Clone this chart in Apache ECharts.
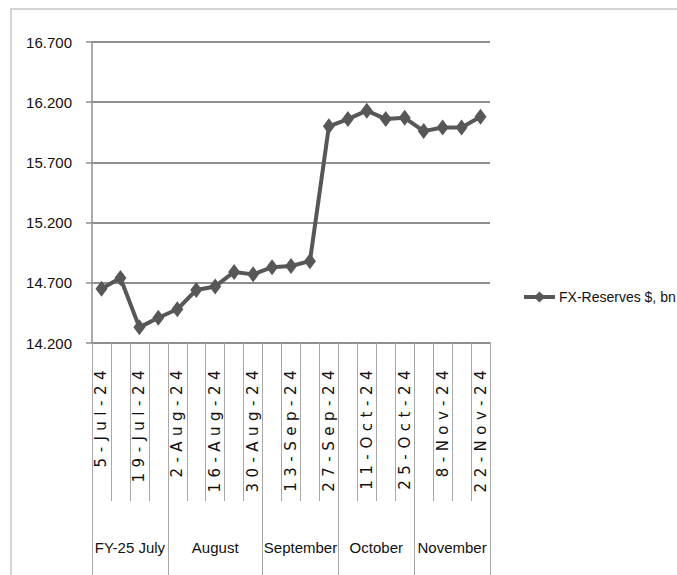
<!DOCTYPE html>
<html>
<head>
<meta charset="utf-8">
<script src="https://cdn.jsdelivr.net/npm/echarts@6/dist/echarts.min.js"></script>
<style>
  html, body { margin: 0; padding: 0; background: #fff; }
  .frame {
    position: absolute; left: 10px; top: 8px; right: -4px; bottom: -4px;
    border: 2px solid #d4d4d4;
  }
  #chart { position: absolute; left: 0; top: 0; width: 677px; height: 575px; }
  /* the rotated date labels in the reference are widely spaced */
  #chart text[style*='"DejaVu Sans", Verdana'] { letter-spacing: 5.5px; }
</style>
</head>
<body>
<div class="frame"></div>
<div id="chart"></div>
<script>
const weeks = [
  '5-Jul-24', '12-Jul-24', '19-Jul-24', '26-Jul-24',
  '2-Aug-24', '9-Aug-24', '16-Aug-24', '23-Aug-24', '30-Aug-24',
  '6-Sep-24', '13-Sep-24', '20-Sep-24', '27-Sep-24',
  '4-Oct-24', '11-Oct-24', '18-Oct-24', '25-Oct-24',
  '1-Nov-24', '8-Nov-24', '15-Nov-24', '22-Nov-24'
]
const reserves = [
  14.65, 14.74, 14.33, 14.41,
  14.48, 14.64, 14.67, 14.79, 14.77,
  14.83, 14.84, 14.88, 16.00,
  16.06, 16.13, 16.06, 16.07,
  15.96, 15.99, 15.99, 16.08
]
const months = ['FY-25 July', 'August', 'September', 'October', 'November']
const monthWeeks = [4, 5, 4, 4, 4]
const seriesName = 'FX-Reserves $, bn'

// month group edges and centres on a 0..weeks.length scale
const monthEdges = [0]
monthWeeks.forEach((n) => monthEdges.push(monthEdges[monthEdges.length - 1] + n))
const monthCenters = months.map((_, i) => (monthEdges[i] + monthEdges[i + 1]) / 2)

const narrow = '"Liberation Sans", Arial, sans-serif'
const lineColor = '#575757'
const textColor = '#111'

const chart = echarts.init(document.getElementById('chart'), null, { renderer: 'svg' })

chart.setOption({
  animation: false,
  grid: { left: 92, right: 187, top: 42, bottom: 232 },
  legend: {
    left: 517,
    top: 285,
    itemWidth: 31,
    itemHeight: 14,
    itemGap: 0,
    lineStyle: { width: 4 },
    textStyle: { fontFamily: narrow, fontSize: 14, color: textColor, padding: [0, 0, 0, -1] },
    data: [seriesName]
  },
  xAxis: [
    {
      type: 'category',
      data: weeks,
      boundaryGap: true,
      axisLine: { lineStyle: { color: '#8f8f8f', width: 2 } },
      axisTick: { show: true, interval: 0, length: 158, lineStyle: { color: '#a8a8a8', width: 1 } },
      axisLabel: {
        interval: 1,
        rotate: 90,
        margin: 22,
        fontFamily: '"DejaVu Sans", Verdana, sans-serif',
        fontSize: 15,
        color: textColor
      }
    },
    {
      type: 'value',
      position: 'bottom',
      min: 0,
      max: weeks.length,
      axisLine: { show: false },
      splitLine: { show: false },
      axisTick: {
        show: true,
        customValues: monthEdges,
        length: 240,
        lineStyle: { color: '#a8a8a8', width: 1 }
      },
      axisLabel: {
        customValues: monthCenters,
        margin: 197,
        fontFamily: narrow,
        fontSize: 15,
        color: textColor,
        formatter: (v) => months[monthCenters.indexOf(v)]
      }
    }
  ],
  yAxis: {
    type: 'value',
    min: 14.2,
    max: 16.7,
    interval: 0.5,
    axisLine: { show: true, lineStyle: { color: '#8f8f8f', width: 1.5 } },
    axisTick: { show: true, length: 6, lineStyle: { color: '#8f8f8f', width: 1.5 } },
    splitLine: { lineStyle: { color: '#8f8f8f', width: 2 } },
    axisLabel: {
      margin: 20,
      fontFamily: narrow,
      fontSize: 15,
      color: textColor,
      formatter: (v) => v.toFixed(3)
    }
  },
  series: [
    {
      name: seriesName,
      type: 'line',
      data: reserves,
      showAllSymbol: true,
      symbol: 'diamond',
      symbolSize: [12, 16],
      lineStyle: { color: lineColor, width: 4 },
      itemStyle: { color: lineColor }
    }
  ]
})
</script>
</body>
</html>
